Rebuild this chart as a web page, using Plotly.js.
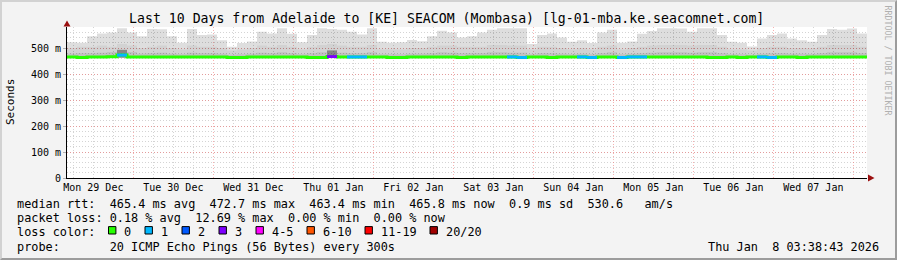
<!DOCTYPE html>
<html><head><meta charset="utf-8">
<script src="https://cdn.plot.ly/plotly-3.0.1.min.js"></script>
<style>
html,body{margin:0;padding:0;background:#f3f3f3;}
#wrap{position:relative;width:897px;height:260px;overflow:hidden;}
#chart{position:absolute;left:0;top:0;width:897px;height:260px;}
#frame{position:absolute;left:0;top:0;width:893px;height:256px;border-style:solid;border-width:2px;border-color:#d2d2d2 #9c9c9c #9c9c9c #d2d2d2;pointer-events:none;}
</style>
</head><body>
<div id="wrap"><div id="chart"></div><div id="frame"></div></div>
<script>
// ---- data (3-hour bins) ----
const binStartUTC = Date.UTC(2025, 11, 29, 4, 6);
const binHours = 3;

const smokeMax = [
 522,520,545,556,560,576,560,545,573,572,
 545,520,573,550,552,530,505,519,525,563,
 556,576,555,522,550,576,573,570,563,552,
 576,524,520,522,531,526,545,566,560,540,
 545,560,570,576,576,576,515,550,556,540,
 524,530,519,560,570,520,525,555,565,576,
 576,575,563,576,576,550,524,520,506,537,
 550,556,537,530,524,550,573,570,575,556];

const smokeMid = [
 500,505,505,510,505,515,510,500,505,510,
 500,495,510,505,505,500,490,495,500,510,
 505,512,505,495,505,512,515,510,505,505,
 512,495,495,495,500,500,505,510,510,505,
 505,505,512,512,510,510,495,505,505,500,
 495,500,495,505,510,495,500,505,510,512,
 512,512,510,512,512,505,495,495,490,500,
 505,505,500,500,498,505,512,512,512,505];

const smokeInner = [
 478,480,480,482,485,495,485,478,480,482,
 478,476,482,480,480,478,474,476,478,482,
 480,484,480,476,480,484,492,482,480,480,
 484,476,476,476,478,478,480,484,482,480,
 480,480,484,484,482,482,476,480,480,478,
 476,478,476,480,484,476,478,480,482,484,
 484,484,482,484,484,480,476,476,474,478,
 480,480,478,478,477,480,484,484,484,480];

const smokeCore = [
 468,468,468,468,470,492,468,468,468,468,
 468,468,468,468,468,468,468,468,468,468,
 468,468,468,468,468,468,490,468,468,468,
 468,468,468,468,468,468,468,468,468,468,
 468,468,468,468,468,468,468,468,468,468,
 468,468,468,468,468,468,468,468,468,468,
 468,468,468,468,468,468,468,468,468,468,
 468,468,468,468,468,468,468,468,468,468];

const smokeMin = [
 462,461,462,462,462,463,462,462,462,462,
 462,462,462,462,462,462,461,461,462,462,
 462,462,462,462,461,461,462,462,462,462,
 462,462,461,461,462,462,462,462,462,461,
 462,462,462,462,462,461,462,462,461,462,
 462,462,461,462,462,461,462,462,462,462,
 462,462,462,462,461,461,462,461,462,462,
 461,462,462,461,462,462,462,462,462,462];

const medianRtt = [
 465.4,463.6,465.4,465.4,466.2,472.7,465.8,465.4,465.4,465.4,
 465.4,465.4,465.4,465.4,465.4,465.4,463.5,463.6,465.4,465.4,
 465.4,465.4,465.4,465.4,463.6,463.4,467.0,465.4,465.6,465.6,
 465.4,465.4,463.5,463.6,465.4,465.4,465.4,465.4,465.4,463.6,
 465.4,465.4,465.4,465.4,465.6,463.6,465.4,465.4,463.6,465.4,
 465.4,465.6,463.6,465.4,465.4,463.6,465.6,465.6,465.4,465.4,
 465.4,465.4,465.4,465.4,463.5,463.6,465.4,463.6,465.4,465.6,
 463.6,465.4,465.4,463.8,465.4,465.4,465.4,465.4,465.4,465.8];

const lossCount = [
 0,0,0,0,0,1,0,0,0,0,
 0,0,0,0,0,0,0,0,0,0,
 0,0,0,0,0,0,3,0,1,1,
 0,0,0,0,0,0,0,0,0,0,
 0,0,0,0,1,1,0,0,0,0,
 0,1,1,0,0,1,1,1,0,0,
 0,0,0,0,0,0,0,0,0,1,
 1,0,0,0,0,0,0,0,0,0];

const lossLabels = ['0','1','2','3','4-5','6-10','11-19','20/20'];
const lossColors = ['#26ff00','#00b8ff','#0059ff','#7e00ff','#ff00ff','#ff5500','#ff0000','#a10000'];
const lossUpper  = [0,1,2,3,5,10,19,20];

const yTickVals = [0,100,200,300,400,500];
const yTickText = ['0','100 m','200 m','300 m','400 m','500 m'];

const titleText = 'Last 10 Days from Adelaide to [KE] SEACOM (Mombasa) [lg-01-mba.ke.seacomnet.com]';
const legendLines = [
 'median rtt:  465.4 ms avg  472.7 ms max  463.4 ms min  465.8 ms now  0.9 ms sd  530.6   am/s',
 'packet loss: 0.18 % avg  12.69 % max  0.00 % min  0.00 % now',
 'loss color:',
 'probe:       20 ICMP Echo Pings (56 Bytes) every 300s'
];
const stampText = 'Thu Jan  8 03:38:43 2026';
const sideText = 'RRDTOOL / TOBI OETIKER';

// ---- build ----
const N = smokeMax.length;
const edges = [];
for (let i = 0; i <= N; i++) edges.push(binStartUTC + i * binHours * 3600000);
const stepY = a => a.concat([a[a.length - 1]]);
const nb = s => s.replace(/ /g, '\u00a0');
const MONO = 'DejaVu Sans Mono';

const traces = [];
const layers = [
 {top: smokeMax,   color: 'rgba(0,0,0,0.13)'},
 {top: smokeMid,   color: 'rgba(0,0,0,0.05)'},
 {top: smokeInner, color: 'rgba(0,0,0,0.08)'},
 {top: smokeCore,  color: 'rgba(0,0,0,0.30)'}
];
layers.forEach(L => {
  traces.push({type:'scatter', mode:'lines', x:edges, y:stepY(smokeMin),
    line:{width:0, shape:'hv'}, hoverinfo:'skip', showlegend:false});
  traces.push({type:'scatter', mode:'lines', x:edges, y:stepY(L.top),
    line:{width:0, shape:'hv'}, fill:'tonexty', fillcolor:L.color, hoverinfo:'skip', showlegend:false});
});
traces.push({type:'scatter', mode:'lines', x:edges, y:stepY(medianRtt),
  line:{color:lossColors[0], width:3, shape:'hv'}, hoverinfo:'skip', showlegend:false});

function lossClass(n){ for (let k = 0; k < lossUpper.length; k++) if (n <= lossUpper[k]) return k; return lossUpper.length - 1; }
for (let k = 1; k < lossColors.length; k++) {
  const xs = [], ys = [];
  for (let i = 0; i < N; i++) {
    if (lossCount[i] > 0 && lossClass(lossCount[i]) === k) {
      xs.push(edges[i], edges[i+1], null);
      ys.push(medianRtt[i], medianRtt[i], null);
    }
  }
  if (xs.length) traces.push({type:'scatter', mode:'lines', x:xs, y:ys,
    line:{color:lossColors[k], width:3}, hoverinfo:'skip', showlegend:false});
}

// pixel helpers (plot area: x 67..867, y 27..178)
const L0 = 67, W = 800, B0 = 178, H = 151;
const px = p => (p - L0) / W, py = p => (B0 - p) / H;

const annotations = [];
const ann = (text, x, y, o) => annotations.push(Object.assign({
  text: nb(text), xref:'paper', yref:'paper', x: px(x), y: py(y), showarrow:false,
  xanchor:'left', yanchor:'middle', borderpad:0,
  font:{family:MONO, size:11.85, color:'#000'}}, o || {}));

ann('Seconds', 10.5, 102.5, {xanchor:'center', textangle:-90, font:{family:MONO, size:11, color:'#000'}});
ann(sideText, 887.5, 60, {xanchor:'center', textangle:90, font:{family:MONO, size:8.3, color:'#b0b0b0'}});
const lineY = [204, 218, 232, 246.5];
legendLines.forEach((t, i) => ann(t, 16, lineY[i]));
ann(stampText, 880, 246.5, {xanchor:'right'});

const shapes = [];
const boxX = [108.5, 145, 182, 219, 256, 307, 365, 430];
lossLabels.forEach((lab, k) => {
  shapes.push({type:'rect', xref:'paper', yref:'paper',
    x0: px(boxX[k]), x1: px(boxX[k] + 7.4), y0: py(234), y1: py(226.6),
    fillcolor: lossColors[k], line:{color:'#000', width:1}});
  ann(lab, boxX[k] + 14.5, 232);
});
// axis arrows
shapes.push({type:'path', xref:'paper', yref:'paper',
  path:`M ${px(67)},${py(20.5)} L ${px(63.5)},${py(26.5)} L ${px(70.5)},${py(26.5)} Z`,
  fillcolor:'#9b1010', line:{width:0}});
shapes.push({type:'path', xref:'paper', yref:'paper',
  path:`M ${px(874.5)},${py(178)} L ${px(868)},${py(174.5)} L ${px(868)},${py(181.5)} Z`,
  fillcolor:'#9b1010', line:{width:0}});

const majorGrid = 'rgba(240,100,100,0.5)';
const minorGrid = '#d4d4d4';
const dots = '1px,2px';

const layout = {
  width: 897, height: 260,
  paper_bgcolor:'#f3f3f3', plot_bgcolor:'#ffffff',
  margin:{l:67, r:30, t:27, b:82, pad:0},
  showlegend:false,
  title:{text:titleText, font:{family:MONO, size:13.2, color:'#000'},
    xref:'container', x:0.498, xanchor:'center', yref:'container', y:1 - 18.8/260, yanchor:'middle'},
  xaxis:{type:'date', range:[edges[0], edges[N]], tickmode:'linear', tick0:'2025-12-29', dtick:86400000,
    tickformat:'%a %d %b', ticklabelmode:'period', ticks:'',
    showgrid:true, gridcolor:majorGrid, griddash:dots, gridwidth:1,
    minor:{tickmode:'linear', tick0:'2025-12-29', dtick:21600000, showgrid:true, gridcolor:minorGrid, griddash:dots, gridwidth:1, ticks:''},
    showline:true, linecolor:'#000', linewidth:1, zeroline:false,
    tickfont:{family:MONO, size:10, color:'#000'}, fixedrange:true},
  yaxis:{range:[0, 580.8], tickmode:'array', tickvals:yTickVals, ticktext:yTickText,
    showgrid:true, gridcolor:majorGrid, griddash:dots, gridwidth:1,
    minor:{tickmode:'linear', tick0:0, dtick:20, showgrid:true, gridcolor:minorGrid, griddash:dots, gridwidth:1, ticks:''},
    showline:true, linecolor:'#000', linewidth:1, zeroline:false,
    ticks:'outside', ticklen:3, tickcolor:'#b0b0b0',
    tickfont:{family:MONO, size:10, color:'#000'}, fixedrange:true},
  annotations, shapes
};

Plotly.newPlot('chart', traces, layout, {staticPlot:true, displayModeBar:false});
</script>
</body></html>
